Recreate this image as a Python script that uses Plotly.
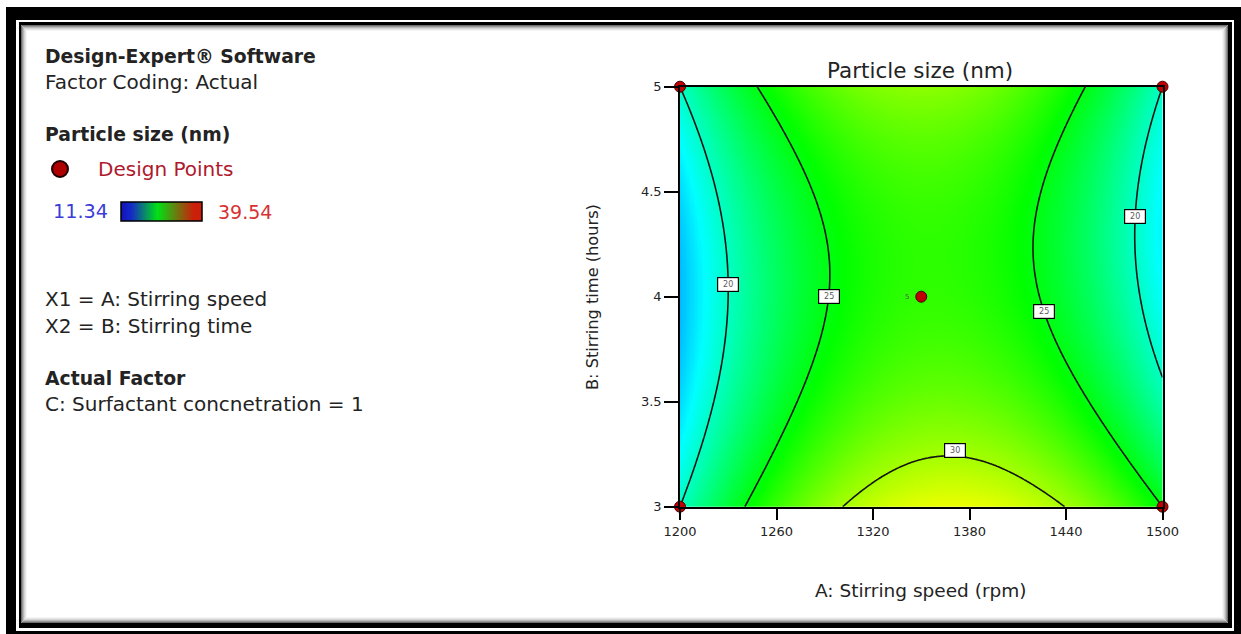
import numpy as np
import plotly.graph_objects as go

# ---------------- data ----------------
speed_ticks = [1200, 1260, 1320, 1380, 1440, 1500]
time_ticks = [3, 3.5, 4, 4.5, 5]
time_tick_labels = ["3", "3.5", "4", "4.5", "5"]
speed_range = [1200, 1500]
time_range = [3, 5]

# fitted response model in coded units (estimated from the contours in the picture)
coef_names = ["1", "A", "B", "AB", "A2", "B2", "AB2"]
coef_values = [26.75, 0.99, -1.25, -1.25, -9.3, 3.8, 0.26]

# design points
design_speed = [1200, 1200, 1500, 1500, 1350]
design_time = [3, 5, 3, 5, 4]
design_reps = ["", "", "", "", "5"]

contour_levels = [20, 25, 30]
response_min, response_max = 11.34, 39.54

# contour label anchors: (level, branch, stirring time)
label_anchors = [(20, "left", 4.056), (25, "left", 4.0), (25, "right", 3.93), (20, "right", 4.38)]
label_30_speed = 1371

# ---------------- model ----------------
C = dict(zip(coef_names, coef_values))


def coded(s, t):
    a = (np.asarray(s, float) - 1350) / 150
    b = (np.asarray(t, float) - 4) / 1
    return a, b


def model(s, t):
    a, b = coded(s, t)
    return (C["1"] + C["A"] * a + C["B"] * b + C["AB"] * a * b + C["A2"] * a ** 2
            + C["B2"] * b ** 2 + C["AB2"] * a * b ** 2)


xs = np.linspace(speed_range[0], speed_range[1], 301)
ys = np.linspace(time_range[0], time_range[1], 201)
XX, YY = np.meshgrid(xs, ys)
ZZ = model(XX, YY)


def crossings_along_speed(level, t):
    s = np.linspace(1200, 1500, 3001)
    z = model(s, np.full_like(s, t)) - level
    idx = np.where(np.sign(z[:-1]) != np.sign(z[1:]))[0]
    return [s[i] - z[i] * (s[i + 1] - s[i]) / (z[i + 1] - z[i]) for i in idx]


def crossing_along_time(level, s0):
    t = np.linspace(3, 4, 2001)
    z = model(np.full_like(t, s0), t) - level
    idx = np.where(np.sign(z[:-1]) != np.sign(z[1:]))[0]
    i = idx[0]
    return t[i] - z[i] * (t[i + 1] - t[i]) / (z[i + 1] - z[i])


W, H = 1241, 634


def px(x):
    return x / W


def py(y):
    return 1 - y / H


main_scale = [[0.0, "rgb(0,0,255)"], [0.25, "rgb(0,255,255)"], [0.5, "rgb(0,255,0)"],
              [0.75, "rgb(255,255,0)"], [1.0, "rgb(255,0,0)"]]
legend_scale = [[0.0, "rgb(20,20,185)"], [0.12, "rgb(20,40,200)"], [0.45, "rgb(0,225,20)"],
                [0.9, "rgb(205,30,10)"], [1.0, "rgb(205,30,10)"]]

fig = go.Figure()

fig.add_trace(go.Heatmap(x=xs, y=ys, z=ZZ, colorscale=main_scale, zmin=response_min,
                         zmax=response_max, showscale=False, hoverinfo="skip"))
fig.add_trace(go.Contour(x=xs, y=ys, z=ZZ, showscale=False, hoverinfo="skip",
                         contours=dict(coloring="none", start=contour_levels[0],
                                       end=contour_levels[-1], size=5),
                         line=dict(color="rgb(20,20,20)", width=1.6)))
fig.add_trace(go.Scatter(x=design_speed, y=design_time, mode="markers", cliponaxis=False,
                         marker=dict(size=11, color="rgb(190,0,0)",
                                     line=dict(color="rgb(70,0,0)", width=1)),
                         hoverinfo="skip", showlegend=False))

# legend colour bar
fig.add_trace(go.Heatmap(z=[np.linspace(0, 1, 120)], colorscale=legend_scale, showscale=False,
                         xaxis="x2", yaxis="y2", hoverinfo="skip"))

FONT = "DejaVu Sans"
TXT = "rgb(35,35,35)"

ann = []


def note(x, y, text, size, color=TXT, xanchor="center", **kw):
    d = dict(x=px(x), y=py(y), xref="paper", yref="paper", text=text, showarrow=False,
             xanchor=xanchor, yanchor="middle", font=dict(size=size, color=color, family=FONT))
    d.update(kw)
    ann.append(d)


# contour labels
box = dict(font=dict(size=8, color="rgb(90,90,90)", family=FONT), bgcolor="white",
           bordercolor="black", borderwidth=1.2, borderpad=1, width=18, height=11,
           showarrow=False, xref="x", yref="y", xanchor="center", yanchor="middle")
for lvl, branch, t in label_anchors:
    cr = crossings_along_speed(lvl, t)
    s = min(cr) if branch == "left" else max(cr)
    ann.append(dict(x=s, y=t, text=str(lvl), **box))
t30 = crossing_along_time(30, label_30_speed)
ann.append(dict(x=label_30_speed, y=t30, text="30", yshift=6, **box))
for s, t, r in zip(design_speed, design_time, design_reps):
    if r:
        ann.append(dict(x=s, y=t, xref="x", yref="y", text=r, showarrow=False, xshift=-14,
                        font=dict(size=7, color="rgb(90,90,90)", family=FONT)))

# titles
note(920, 71, "Particle size (nm)", 21.5)
note(921, 590, "A: Stirring speed (rpm)", 18.5)
note(592, 297, "B: Stirring time (hours)", 16.2, textangle=-90)

# left info panel
left_lines = [
    ("<b>Design-Expert® Software</b>", 56, 18.8),
    ("Factor Coding: Actual", 82, 20),
    ("<b>Particle size (nm)</b>", 134, 18.8),
    ("X1 = A: Stirring speed", 299, 20),
    ("X2 = B: Stirring time", 326, 20),
    ("<b>Actual Factor</b>", 378, 18.8),
    ("C: Surfactant concnetration = 1", 404, 20),
]
for text, y, size in left_lines:
    note(43, y, text, size, xanchor="left")
note(96, 169, "Design Points", 20, color="rgb(175,25,45)", xanchor="left")
note(51, 212, f"{response_min:.2f}", 19.2, color="rgb(60,60,215)", xanchor="left")
note(216, 212, f"{response_max:.2f}", 19, color="rgb(215,50,50)", xanchor="left")

# frame shapes
shapes = []


def rect(x0, y0, x1, y1, fill):
    shapes.append(dict(type="rect", xref="paper", yref="paper", x0=px(x0), x1=px(x1),
                       y0=py(y1), y1=py(y0), layer="below", fillcolor=fill,
                       line=dict(width=0, color="rgba(0,0,0,0)")))


rect(6, 7, 1241, 634, "black")
rect(16, 20, 1234, 631, "white")
rect(19, 22, 1232, 628, "black")
rect(21, 25, 1228, 623, "white")
# inset shadow
for k, g in enumerate([110, 150, 185, 212, 232, 245]):
    shapes.append(dict(type="rect", xref="paper", yref="paper", layer="below",
                       x0=px(21 + k + 0.5), x1=px(1228 - k - 0.5), y0=py(623 - k - 0.5),
                       y1=py(25 + k + 0.5), line=dict(width=1, color=f"rgb({g},{g},{g})")))
# legend design point marker
shapes.append(dict(type="circle", xref="paper", yref="paper", x0=px(52), x1=px(68),
                   y0=py(177), y1=py(161), fillcolor="rgb(175,0,0)",
                   line=dict(color="rgb(30,0,0)", width=2), layer="above"))
# legend bar border
shapes.append(dict(type="rect", xref="paper", yref="paper", x0=px(121), x1=px(202),
                   y0=py(221), y1=py(202), line=dict(color="black", width=1.5), layer="above"))

axis_common = dict(ticks="outside", tickwidth=1.5, tickcolor="black", showline=True,
                   linecolor="black", linewidth=1.5, mirror=True, showgrid=False,
                   zeroline=False, automargin=False,
                   tickfont=dict(size=13, color=TXT, family=FONT))

fig.update_layout(
    width=W, height=H, autosize=False, template="none",
    margin=dict(l=0, r=0, t=0, b=0, pad=0),
    paper_bgcolor="white", plot_bgcolor="rgba(0,0,0,0)",
    showlegend=False, annotations=ann, shapes=shapes,
    font=dict(family=FONT, color=TXT),
    xaxis=dict(domain=[px(680), px(1162.5)], range=speed_range, tickvals=speed_ticks,
               ticktext=[str(v) for v in speed_ticks], ticklen=12, **axis_common),
    yaxis=dict(domain=[py(506.7), py(86.7)], range=time_range, tickvals=time_ticks,
               ticktext=time_tick_labels, ticklen=14, **axis_common),
    xaxis2=dict(domain=[px(121), px(202)], anchor="y2", visible=False, automargin=False),
    yaxis2=dict(domain=[py(221), py(202)], anchor="x2", visible=False, automargin=False),
)

fig.write_html("out.html", config={"displayModeBar": False})
